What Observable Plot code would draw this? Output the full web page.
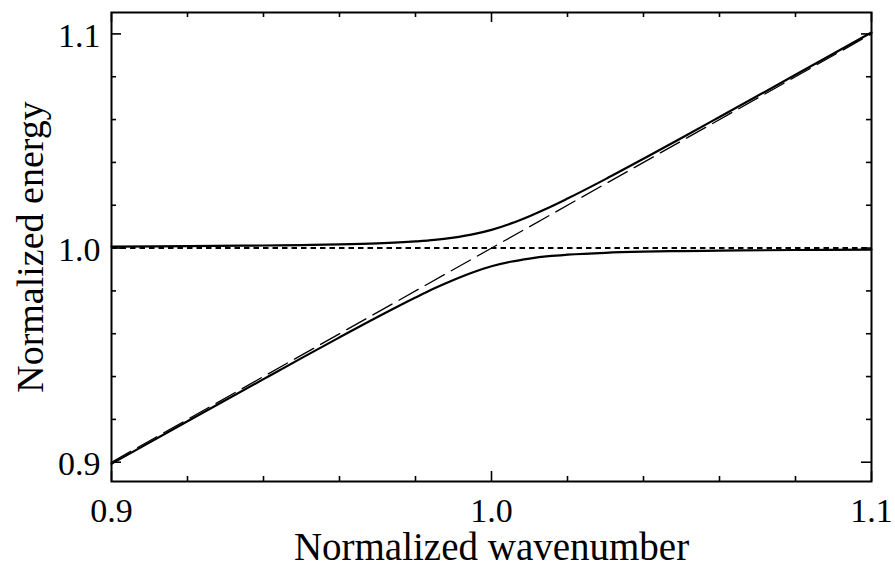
<!DOCTYPE html>
<html>
<head>
<meta charset="utf-8">
<script src="https://cdn.jsdelivr.net/npm/d3@7"></script>
<script src="https://cdn.jsdelivr.net/npm/@observablehq/plot@0.6"></script>
<style>
  html, body { margin: 0; padding: 0; background: #fff; }
  #chart svg { display: block; }
</style>
</head>
<body>
<div id="chart"></div>
<script>
// Normalized wavenumber samples and the two coupled-mode branches
const wavenumber = [0.90, 0.92, 0.94, 0.95, 0.96, 0.97, 0.98, 0.985, 0.99, 0.995, 1.00,
                    1.005, 1.01, 1.015, 1.02, 1.03, 1.04, 1.05, 1.06, 1.08, 1.10];
const upperBranch = [1.0007, 1.0009, 1.0012, 1.0014, 1.0017, 1.0022, 1.0031, 1.0038, 1.0049, 1.0064, 1.0085,
                     1.0114, 1.0149, 1.0188, 1.0231, 1.0322, 1.0417, 1.0514, 1.0612, 1.0809, 1.1007];
const lowerBranch = [0.8993, 0.9191, 0.9388, 0.9486, 0.9583, 0.9678, 0.9769, 0.9812, 0.9851, 0.9886, 0.9915,
                     0.9936, 0.9951, 0.9962, 0.9969, 0.9978, 0.9983, 0.9986, 0.9988, 0.9991, 0.9993];

// Uncoupled modes: the light line and the flat resonance
const lightLineX = [0.90, 1.10];
const lightLineY = [0.90, 1.10];
const resonance = [1.0];

// Axis ticks
const majorX = [0.9, 1.0, 1.1];
const minorX = [0.92, 0.94, 0.96, 0.98, 1.02, 1.04, 1.06, 1.08];
const majorY = [0.9, 1.0, 1.1];
const minorY = [0.92, 0.94, 0.96, 0.98, 1.02, 1.04, 1.06, 1.08];

const xLabel = "Normalized wavenumber";
const yLabel = "Normalized energy";

const W = 895, H = 572;
const M = {top: 12, right: 24, bottom: 91, left: 111};
const innerW = W - M.left - M.right;
const innerH = H - M.top - M.bottom;

const upper = wavenumber.map((x, i) => ({x, y: upperBranch[i]}));
const lower = wavenumber.map((x, i) => ({x, y: lowerBranch[i]}));
const light = lightLineX.map((x, i) => ({x, y: lightLineY[i]}));

const font = "'Liberation Serif', 'Times New Roman', serif";
const majorLen = 10, minorLen = 5;

// inward ticks on all four sides
const ticks = [
  Plot.tickX(majorX, {x: d => d, insetTop: innerH - majorLen, stroke: "black", strokeWidth: 1.6}),
  Plot.tickX(minorX, {x: d => d, insetTop: innerH - minorLen, stroke: "black", strokeWidth: 1.6}),
  Plot.tickX(majorX, {x: d => d, insetBottom: innerH - majorLen, stroke: "black", strokeWidth: 1.6}),
  Plot.tickX(minorX, {x: d => d, insetBottom: innerH - minorLen, stroke: "black", strokeWidth: 1.6}),
  Plot.tickY(majorY, {y: d => d, insetRight: innerW - majorLen, stroke: "black", strokeWidth: 1.6}),
  Plot.tickY(minorY, {y: d => d, insetRight: innerW - minorLen, stroke: "black", strokeWidth: 1.6}),
  Plot.tickY(majorY, {y: d => d, insetLeft: innerW - majorLen, stroke: "black", strokeWidth: 1.6}),
  Plot.tickY(minorY, {y: d => d, insetLeft: innerW - minorLen, stroke: "black", strokeWidth: 1.6})
];

const chart = Plot.plot({
  width: W,
  height: H,
  marginTop: M.top,
  marginRight: M.right,
  marginBottom: M.bottom,
  marginLeft: M.left,
  style: {fontFamily: font, background: "white", color: "black", overflow: "visible"},
  x: {domain: [0.9, 1.1], axis: null},
  y: {domain: [0.891, 1.11], axis: null},
  marks: [
    Plot.ruleY(resonance, {y: d => d, stroke: "black", strokeWidth: 1.9, strokeDasharray: "5.5,4"}),
    Plot.line(light, {x: "x", y: "y", stroke: "black", strokeWidth: 1.3, strokeDasharray: "22,8"}),
    Plot.line(upper, {x: "x", y: "y", stroke: "black", strokeWidth: 2.2, curve: "monotone-x"}),
    Plot.line(lower, {x: "x", y: "y", stroke: "black", strokeWidth: 2.2, curve: "monotone-x"}),
    ...ticks,
    Plot.frame({stroke: "black", strokeWidth: 2}),
    // tick labels
    Plot.text(majorX, {x: d => d, text: d => d.toFixed(1), frameAnchor: "bottom", lineAnchor: "middle",
                       dy: 30, fontSize: 34, fill: "black"}),
    Plot.text(majorY, {y: d => d, text: d => d.toFixed(1), frameAnchor: "left", textAnchor: "end",
                       lineAnchor: "middle", dx: -11, dy: 2, fontSize: 34, fill: "black"}),
    // axis titles
    Plot.text([xLabel], {text: d => d, frameAnchor: "bottom", textAnchor: "middle", lineAnchor: "middle",
                         dy: 66, fontSize: 39, fill: "black"}),
    Plot.text([yLabel], {text: d => d, frameAnchor: "left", textAnchor: "middle", lineAnchor: "middle",
                         rotate: -90, dx: -81, fontSize: 38, fill: "black"})
  ]
});

document.getElementById("chart").appendChild(chart);
</script>
</body>
</html>
